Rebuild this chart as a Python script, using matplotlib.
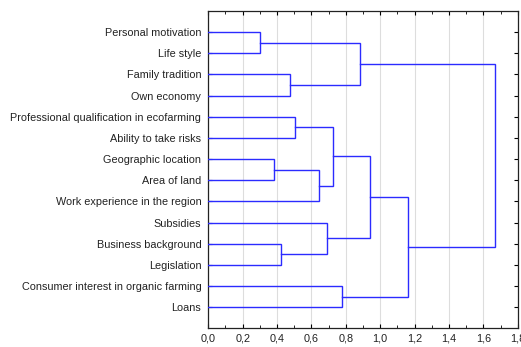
import matplotlib
matplotlib.use("Agg")
import matplotlib.pyplot as plt
from matplotlib.ticker import MultipleLocator, FuncFormatter

plt.rcParams['font.family'] = ['Liberation Sans', 'DejaVu Sans']

# leaves, top to bottom
labels = ["Personal motivation", "Life style", "Family tradition", "Own economy",
          "Professional qualification in ecofarming", "Ability to take risks",
          "Geographic location", "Area of land", "Work experience in the region",
          "Subsidies", "Business background", "Legislation",
          "Consumer interest in organic farming", "Loans"]

# merges: (cluster a, cluster b, linkage distance); new cluster ids start at 14
merge_a = [0, 6, 10, 2, 4, 15, 9, 18, 12, 14, 21, 24, 23]
merge_b = [1, 7, 11, 3, 5, 8, 16, 19, 13, 17, 20, 22, 25]
merge_h = [0.30, 0.38, 0.425, 0.478, 0.503, 0.643, 0.691, 0.726, 0.776, 0.883, 0.940, 1.159, 1.666]

n = len(labels)
ypos = {i: i + 1 for i in range(n)}
hgt = {i: 0.0 for i in range(n)}

fig = plt.figure(figsize=(5.21, 3.47), dpi=100)
ax = fig.add_axes([0.3998, 0.0539, 0.5939, 0.9144])

for k, (a, b, h) in enumerate(zip(merge_a, merge_b, merge_h)):
    ya, yb = ypos[a], ypos[b]
    ax.plot([hgt[a], h, h, hgt[b]], [ya, ya, yb, yb], color='#2b2bff', lw=1.0,
            solid_joinstyle='miter', zorder=3)
    ypos[n + k] = (ya + yb) / 2
    hgt[n + k] = h

ax.set_xlim(0, 1.8)
ax.set_ylim(n + 1, 0)
ax.set_yticks(range(1, n + 1))
ax.set_yticklabels(labels, fontsize=7.8, color='#222222')
ax.xaxis.set_major_locator(MultipleLocator(0.2))
ax.xaxis.set_minor_locator(MultipleLocator(0.1))
ax.xaxis.set_major_formatter(FuncFormatter(lambda v, p: f"{v:.1f}".replace('.', ',')))
ax.tick_params(axis='x', labelsize=7.8, labelcolor='#222222', direction='in',
               top=True, length=3, width=0.8, pad=4)
ax.tick_params(axis='x', which='minor', direction='in', top=True, length=2, width=0.6)
ax.tick_params(axis='y', direction='in', right=True, length=3, width=0.8, pad=5)
ax.grid(axis='x', color='#dddddd', lw=0.8, zorder=0)
for s in ax.spines.values():
    s.set_linewidth(0.9)
    s.set_color('#222222')

fig.savefig("out.png", dpi=100)
